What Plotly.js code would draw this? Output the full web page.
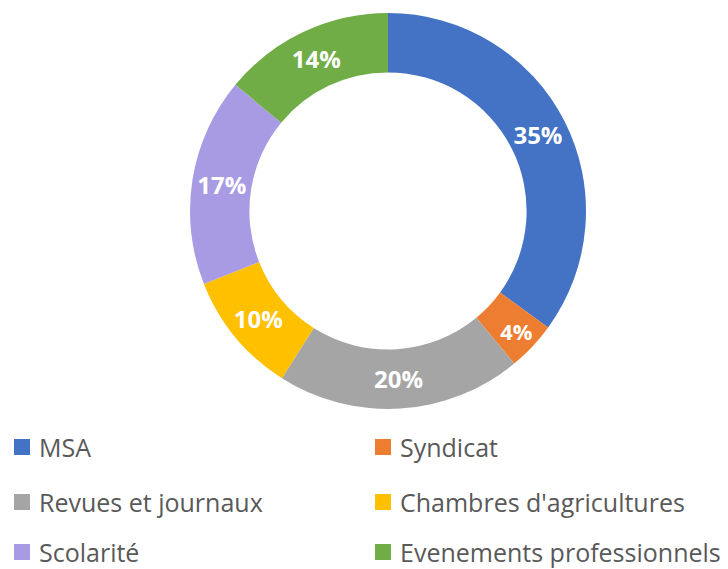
<!DOCTYPE html>
<html><head><meta charset="utf-8">
<script src="https://cdn.plot.ly/plotly-3.0.1.min.js"></script>
<style>html,body{margin:0;padding:0;background:#fff}</style>
</head><body>
<div id="chart" style="width:728px;height:569px"></div>
<script>
const categories = ["MSA", "Syndicat", "Revues et journaux", "Chambres d'agricultures", "Scolarité", "Evenements professionnels"];
const values = [35, 4, 20, 10, 17, 14];
const colors = ["#4472C4", "#ED7D31", "#A5A5A5", "#FFC000", "#A89BE4", "#70AD47"];

const W = 728, H = 569;
const trace = {
  type: 'pie',
  labels: categories,
  values: values,
  marker: {colors: colors, line: {width: 0}},
  hole: 0.70,
  sort: false,
  direction: 'clockwise',
  rotation: 0,
  textinfo: 'percent',
  textposition: 'inside',
  insidetextorientation: 'horizontal',
  texttemplate: '<b>%{percent:.0%}</b>',
  textfont: {family: 'Open Sans, sans-serif', size: 24, color: '#ffffff'},
  domain: {x: [190 / W, 586 / W], y: [1 - 409 / H, 1 - 13 / H]},
  showlegend: false
};

// Legend laid out in two columns, built from categories and colors
const colSquareX = [14, 375], colTextX = [37, 398], rowY = [447, 502, 552];
const sq = 16;
const shapes = [], annotations = [];
categories.forEach((name, i) => {
  const col = i % 2, row = Math.floor(i / 2);
  const x0 = colSquareX[col], yc = rowY[row];
  shapes.push({
    type: 'rect', xref: 'paper', yref: 'paper',
    x0: x0 / W, x1: (x0 + sq) / W,
    y0: 1 - (yc + sq / 2) / H, y1: 1 - (yc - sq / 2) / H,
    fillcolor: colors[i], line: {width: 0}
  });
  annotations.push({
    xref: 'paper', yref: 'paper', x: colTextX[col] / W, y: 1 - yc / H,
    xanchor: 'left', yanchor: 'middle', showarrow: false, text: name,
    font: {family: 'Open Sans, sans-serif', size: 25, color: '#595959'}
  });
});

const layout = {
  width: W, height: H,
  margin: {l: 0, r: 0, t: 0, b: 0},
  paper_bgcolor: '#ffffff',
  showlegend: false,
  shapes: shapes,
  annotations: annotations
};
Plotly.newPlot('chart', [trace], layout, {displayModeBar: false, staticPlot: true});
</script>
</body></html>
